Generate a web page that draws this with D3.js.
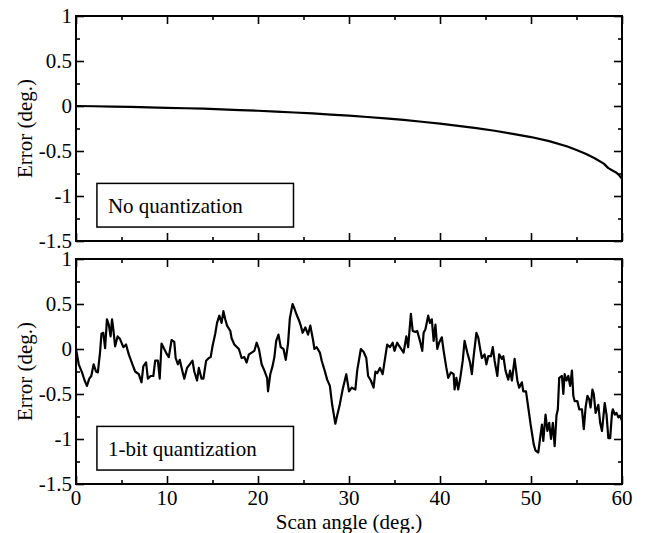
<!DOCTYPE html>
<html>
<head>
<meta charset="utf-8">
<script src="https://cdn.jsdelivr.net/npm/d3@7/dist/d3.min.js"></script>
<style>
  body { margin: 0; background: #fff; }
  svg { display: block; }
  svg text { font-family: "Liberation Serif", "Times New Roman", Tinos !important; }
</style>
</head>
<body>
<svg id="chart" width="648" height="533" font-family="Liberation Serif"></svg>
<script>
// Axis ticks and labels
const xTicks = [0, 10, 20, 30, 40, 50, 60];
const xMinorTicks = [5, 15, 25, 35, 45, 55];
const yTicks = [1, 0.5, 0, -0.5, -1, -1.5];
const yMinorTicks = [0.75, 0.25, -0.25, -0.75, -1.25];
const xLabel = "Scan angle (deg.)";
const yLabel = "Error (deg.)";
const panelNames = ["No quantization", "1-bit quantization"];

// Pointing error without quantization
const idealAngle = [0, 2, 4, 6, 8, 10, 12, 14, 16, 18, 20, 22, 24, 26, 28, 30, 32, 34, 36, 38,
  40, 42, 44, 46, 48, 50, 52, 54, 55, 56, 57, 58, 58.5, 59, 59.3, 59.6, 60];
const idealError = [0, -0.003, -0.006, -0.01, -0.015, -0.02, -0.025, -0.03, -0.037, -0.045,
  -0.053, -0.062, -0.072, -0.083, -0.095, -0.108, -0.122, -0.138, -0.155, -0.175,
  -0.196, -0.22, -0.245, -0.275, -0.31, -0.345, -0.39, -0.45, -0.49, -0.53, -0.58, -0.64,
  -0.69, -0.72, -0.735, -0.76, -0.81];

// Pointing error with 1-bit phase quantization
const quantAngle = [0, 0.3, 0.66, 0.95, 1.2, 1.46, 1.68, 1.94, 2.2, 2.4, 2.64, 2.8, 3.0, 3.2, 3.4,
  3.6, 3.8, 3.96, 4.1, 4.3, 4.57, 4.84, 5.2, 5.5, 5.8, 6.2, 6.5, 6.9, 7.2, 7.4, 7.7, 7.9,
  8.2, 8.5, 8.7, 9.0, 9.2, 9.4, 9.7, 10.0, 10.2, 10.5, 10.8, 10.95, 11.2, 11.4, 11.7, 11.9,
  12.2, 12.5, 12.8, 13.0, 13.3, 13.5, 13.8, 14.0, 14.3, 14.6, 14.8, 15.0, 15.3, 15.5, 15.75,
  16.0, 16.2, 16.4, 16.6, 16.96, 17.1, 17.4, 17.7, 17.9, 18.2, 18.5, 18.75, 19.0, 19.3, 19.6,
  19.85, 20.1, 20.4, 20.7, 21.0, 21.1, 21.35, 21.6, 21.8, 22.0, 22.25, 22.5, 22.8, 23.05,
  23.3, 23.5, 23.8, 24.0, 24.25, 24.5, 24.7, 24.9, 25.2, 25.5, 25.75, 26.05, 26.2, 26.45,
  26.8, 27.0, 27.3, 27.6, 27.9, 28.15, 28.3, 28.5, 28.7, 29.0, 29.3, 29.7, 30.0, 30.3, 30.7,
  30.9, 31.3, 31.6, 31.9, 32.1, 32.4, 32.7, 32.9, 33.1, 33.4, 33.7, 34.0, 34.2, 34.5, 34.8,
  35.0, 35.3, 35.6, 36.0, 36.3, 36.5, 36.8, 37.0, 37.3, 37.5, 37.8, 38.05, 38.2, 38.4, 38.7,
  38.9, 39.1, 39.3, 39.5, 39.7, 39.9, 40.2, 40.4, 40.7, 40.9, 41.2, 41.5, 41.6, 41.8, 42.0,
  42.2, 42.5, 42.7, 43.0, 43.3, 43.5, 43.7, 44.0, 44.2, 44.45, 44.6, 44.9, 45.1, 45.3, 45.6,
  45.8, 46.0, 46.3, 46.5, 46.8, 46.96, 47.2, 47.5, 47.7, 47.9, 48.2, 48.5, 48.7, 49.0, 49.15,
  49.45, 49.7, 49.96, 50.3, 50.5, 50.8, 51.0, 51.2, 51.35, 51.6, 51.8, 52.0, 52.2, 52.4, 52.6,
  52.8, 52.95, 53.1, 53.4, 53.55, 53.7, 53.9, 54.1, 54.3, 54.5, 54.65, 54.8, 55.1, 55.3, 55.6,
  55.8, 56.0, 56.2, 56.4, 56.55, 56.75, 56.9, 57.1, 57.4, 57.6, 57.8, 57.95, 58.1, 58.3, 58.5,
  58.7, 58.9, 59.0, 59.2, 59.4, 59.6, 59.8, 60.0];
const quantError = [0.0, -0.17, -0.26, -0.35, -0.41, -0.33, -0.30, -0.17, -0.25, -0.26, -0.04,
  0.17, 0.18, 0.01, 0.33, 0.27, 0.14, 0.33, 0.22, 0.03, 0.14, 0.11, 0.02, 0.05, -0.06, -0.17,
  -0.25, -0.28, -0.37, -0.19, -0.15, -0.33, -0.30, -0.30, -0.13, -0.13, -0.33, 0.06, 0.0,
  -0.06, -0.09, 0.10, 0.08, -0.10, -0.17, -0.12, -0.25, -0.33, -0.21, -0.17, -0.13, -0.25,
  -0.35, -0.21, -0.33, -0.33, -0.13, -0.10, -0.09, 0.03, 0.17, 0.29, 0.37, 0.29, 0.42, 0.33,
  0.26, 0.20, 0.12, 0.05, 0.02, 0.0, -0.10, -0.09, -0.15, -0.06, -0.04, -0.02, 0.07, 0.0,
  -0.17, -0.24, -0.32, -0.47, -0.28, -0.19, -0.09, 0.09, 0.16, 0.02, 0.0, -0.12, 0.06, 0.34,
  0.50, 0.45, 0.38, 0.32, 0.26, 0.18, 0.24, 0.16, 0.26, 0.10, 0.0, 0.02, -0.04, -0.13, -0.23,
  -0.34, -0.41, -0.62, -0.71, -0.83, -0.74, -0.61, -0.45, -0.28, -0.47, -0.43, -0.45, -0.24,
  0.0, -0.03, -0.10, -0.30, -0.35, -0.43, -0.25, -0.27, -0.21, -0.28, -0.08, 0.05, 0.02, 0.07,
  -0.02, 0.07, 0.02, -0.04, 0.14, 0.02, 0.39, 0.20, 0.19, 0.20, 0.09, -0.02, 0.18, 0.22, 0.37,
  0.29, 0.33, 0.09, 0.27, 0.0, 0.07, 0.13, -0.02, -0.21, -0.32, -0.26, -0.28, -0.45, -0.32,
  -0.45, -0.34, -0.13, 0.09, -0.04, -0.15, -0.28, -0.08, 0.18, 0.13, -0.02, -0.10, -0.06,
  -0.17, -0.08, -0.08, 0.02, -0.13, -0.30, -0.06, -0.11, -0.08, -0.24, -0.34, -0.24, -0.35,
  -0.11, -0.35, -0.43, -0.37, -0.47, -0.47, -0.65, -0.84, -1.06, -1.13, -1.15, -0.99, -0.84,
  -1.02, -0.73, -0.91, -0.82, -1.00, -0.82, -1.08, -0.74, -0.67, -0.32, -0.30, -0.50, -0.28,
  -0.35, -0.30, -0.41, -0.24, -0.52, -0.58, -0.58, -0.67, -0.67, -0.89, -0.65, -0.52, -0.56,
  -0.65, -0.45, -0.50, -0.71, -0.62, -0.82, -0.91, -0.76, -0.60, -0.73, -0.99, -0.99, -0.71,
  -0.67, -0.73, -0.71, -0.76, -0.74, -0.80];

const panels = [
  { angle: idealAngle, error: idealError, name: panelNames[0], top: 16, showX: false },
  { angle: quantAngle, error: quantError, name: panelNames[1], top: 259, showX: true }
];

const fontSize = 21;
const svg = d3.select("#chart");
const left = 76, right = 622, panelH = 225;

// serif face for every label
const serif = sel => sel
  .attr("font-size", fontSize)
  .attr("font-family", "Liberation Serif")
  .style("font-family", "'Liberation Serif', 'Times New Roman', Tinos")
  .attr("fill", "#000");

const x = d3.scaleLinear().domain([0, 60]).range([left, right]);

panels.forEach(p => {
  const y = d3.scaleLinear().domain([-1.5, 1]).range([p.top + panelH, p.top]);
  const yb = p.top + panelH;
  const g = svg.append("g");

  // inward tick marks on all four sides (marks only)
  const ticks = (axis, tx, ty) => {
    const a = g.append("g").attr("transform", `translate(${tx},${ty})`).call(axis.tickFormat(""));
    a.select(".domain").remove();
    a.selectAll("text").remove();
    a.selectAll("line").attr("stroke", "#000").attr("stroke-width", 1.6);
  };
  ticks(d3.axisLeft(y).tickValues(yTicks).tickSize(-8), left, 0);
  ticks(d3.axisLeft(y).tickValues(yMinorTicks).tickSize(-4), left, 0);
  ticks(d3.axisRight(y).tickValues(yTicks).tickSize(-8), right, 0);
  ticks(d3.axisRight(y).tickValues(yMinorTicks).tickSize(-4), right, 0);
  ticks(d3.axisTop(x).tickValues(xTicks).tickSize(-8), 0, p.top);
  ticks(d3.axisTop(x).tickValues(xMinorTicks).tickSize(-4), 0, p.top);
  ticks(d3.axisBottom(x).tickValues(xTicks).tickSize(-8), 0, yb);
  ticks(d3.axisBottom(x).tickValues(xMinorTicks).tickSize(-4), 0, yb);

  // y tick labels
  g.append("g").selectAll("text").data(yTicks).join("text")
    .attr("x", left - 4).attr("y", d => y(d))
    .attr("dy", "0.35em").attr("text-anchor", "end")
    .call(serif)
    .text(d => String(d));

  // x tick labels
  if (p.showX) {
    g.append("g").selectAll("text").data(xTicks).join("text")
      .attr("x", d => x(d)).attr("y", yb + 6)
      .attr("dy", "0.71em").attr("text-anchor", "middle")
      .call(serif)
      .text(d => String(d));
  }

  // data curve
  const pts = p.angle.map((a, i) => [a, p.error[i]]);
  g.append("path")
    .datum(pts)
    .attr("fill", "none")
    .attr("stroke", "#000")
    .attr("stroke-width", 2.2)
    .attr("stroke-linejoin", "round")
    .attr("d", d3.line().x(d => x(d[0])).y(d => y(d[1])));

  // frame
  g.append("rect")
    .attr("x", left).attr("y", p.top)
    .attr("width", right - left).attr("height", panelH)
    .attr("fill", "none").attr("stroke", "#000").attr("stroke-width", 2);

  // panel caption box
  const bx0 = x(2.3), bx1 = x(23.9), by0 = y(-0.86), by1 = y(-1.345);
  g.append("rect")
    .attr("x", bx0).attr("y", by0)
    .attr("width", bx1 - bx0).attr("height", by1 - by0)
    .attr("fill", "#fff").attr("stroke", "#000").attr("stroke-width", 1.5);
  g.append("text")
    .attr("x", bx0 + 11).attr("y", (by0 + by1) / 2)
    .attr("dy", "0.35em")
    .call(serif)
    .text(p.name);

  // y-axis title
  g.append("text")
    .attr("transform", `translate(25,${(p.top + yb) / 2}) rotate(-90)`)
    .attr("text-anchor", "middle")
    .attr("dy", "0.35em")
    .call(serif)
    .text(yLabel);
});

// x-axis title
svg.append("text")
  .attr("x", (left + right) / 2)
  .attr("y", 529)
  .attr("text-anchor", "middle")
  .call(serif)
  .text(xLabel);
</script>
</body>
</html>
